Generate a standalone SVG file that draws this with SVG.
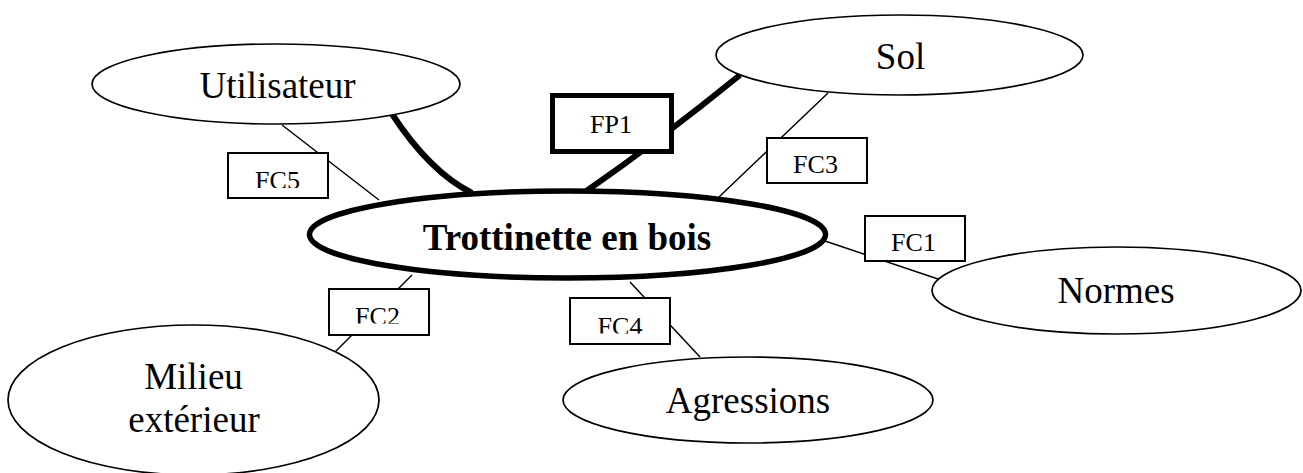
<svg xmlns="http://www.w3.org/2000/svg" width="1303" height="473" viewBox="0 0 1303 473">
<style>
.bg{fill:#fff}
.ell{fill:#fff;stroke:#000;stroke-width:1.7}
.main{fill:#fff;stroke:#000;stroke-width:5.5}
.box{fill:#fff;stroke:#000;stroke-width:2}
.fp{fill:#fff;stroke:#000;stroke-width:5}
.thin{fill:none;stroke:#000;stroke-width:1.5}
.thick{fill:none;stroke:#000;stroke-width:6}
.lbl{font-family:"Liberation Serif","Times New Roman",serif;font-size:37px;text-anchor:middle;fill:#000}
.title{font-family:"Liberation Serif","Times New Roman",serif;font-size:37px;font-weight:bold;text-anchor:middle;fill:#000}
.fc{font-family:"Liberation Serif","Times New Roman",serif;font-size:26px;text-anchor:middle;fill:#000}
</style>
<defs>
<clipPath id="c5"><rect x="228" y="153" width="100" height="35"/></clipPath>
<clipPath id="c2"><rect x="329" y="289" width="100" height="34.5"/></clipPath>
<clipPath id="c4"><rect x="570" y="298" width="100" height="35.5"/></clipPath>
</defs>
<rect class="bg" x="0" y="0" width="1303" height="473"/>
<g id="connectors">
<line class="thin" x1="282" y1="125" x2="379" y2="200"/>
<line class="thin" x1="828" y1="93" x2="719" y2="197"/>
<line class="thin" x1="825" y1="241" x2="938" y2="279"/>
<line class="thin" x1="412" y1="275" x2="335" y2="352"/>
<line class="thin" x1="630" y1="282" x2="700" y2="357"/>
<path class="thick" d="M392,114 Q430,172 472,193"/>
<path class="thick" d="M740,75 Q660,140 585,192"/>
</g>
<g id="utilisateur">
<ellipse class="ell" cx="276" cy="84" rx="184" ry="40"/>
<text class="lbl" x="277.5" y="98">Utilisateur</text>
</g>
<g id="sol">
<ellipse class="ell" cx="899.5" cy="55" rx="183.5" ry="40"/>
<text class="lbl" x="900.5" y="69">Sol</text>
</g>
<g id="normes">
<ellipse class="ell" cx="1116.5" cy="290.5" rx="184.5" ry="43.5"/>
<text class="lbl" x="1116" y="303">Normes</text>
</g>
<g id="agressions">
<ellipse class="ell" cx="748" cy="400" rx="185" ry="43"/>
<text class="lbl" x="748" y="413">Agressions</text>
</g>
<g id="milieu">
<ellipse class="ell" cx="193.5" cy="400" rx="185.5" ry="75"/>
<text class="lbl" x="193.5" y="389">Milieu</text>
<text class="lbl" x="194" y="432">extérieur</text>
</g>
<g id="trottinette">
<ellipse class="main" cx="567.5" cy="234.5" rx="258" ry="43.5"/>
<text class="title" x="567" y="250">Trottinette en bois</text>
</g>
<g id="fp1">
<rect class="fp" x="552.5" y="95.5" width="119" height="56"/>
<text class="fc" x="611" y="133">FP1</text>
</g>
<g id="fc5">
<rect class="box" x="228" y="153" width="100" height="45"/>
<text class="fc" x="277.5" y="189" clip-path="url(#c5)">FC5</text>
</g>
<g id="fc3">
<rect class="box" x="767" y="138" width="100" height="45"/>
<text class="fc" x="815.5" y="173">FC3</text>
</g>
<g id="fc1">
<rect class="box" x="865" y="216" width="100" height="45"/>
<text class="fc" x="913.5" y="251">FC1</text>
</g>
<g id="fc2">
<rect class="box" x="329" y="289" width="100" height="46"/>
<text class="fc" x="377.5" y="324.5" clip-path="url(#c2)">FC2</text>
</g>
<g id="fc4">
<rect class="box" x="570" y="298" width="100" height="46"/>
<text class="fc" x="620" y="335" clip-path="url(#c4)">FC4</text>
</g>
</svg>
